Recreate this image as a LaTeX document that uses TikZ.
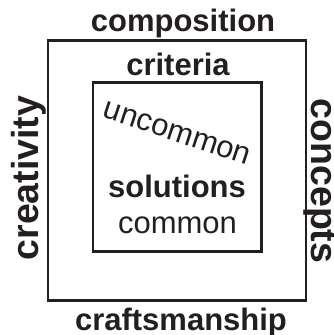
\documentclass[tikz,border=0pt]{standalone}
\usepackage{fontspec}
\setmainfont{Liberation Sans}
\definecolor{ink}{HTML}{231F20}
\begin{document}
\begin{tikzpicture}[x=1pt,y=-1pt,
  boxframe/.style={draw=ink,line width=2.5pt,inner sep=0pt,fill=none},
  bigbold/.style={text=ink,inner sep=0pt,anchor=base,font=\fontsize{31}{31}\selectfont\bfseries},
  sidebold/.style={text=ink,inner sep=0pt,anchor=base,font=\fontsize{37.5}{37.5}\selectfont\bfseries},
  plain/.style={text=ink,inner sep=0pt,anchor=base,font=\fontsize{31}{31}\selectfont}]
\useasboundingbox (0,0) rectangle (334,335);
\node[boxframe,minimum width=258pt,minimum height=259.8pt] (outer) at (177,170.6) {};
\node[boxframe,minimum width=168.3pt,minimum height=168.8pt] (inner) at (177.15,167.1) {};
\node[bigbold] (composition) at (183,31.5) {composition};
\node[bigbold] (craftsmanship) at (181,330) {craftsmanship};
\node[bigbold] (criteria) at (178,75) {criteria};
\node[sidebold,rotate=90] (creativity) at (38,178) {creativity};
\node[sidebold,rotate=-90] (concepts) at (311,181) {concepts};
\node[plain,rotate=-18.3] (uncommon) at (174.5,141) {uncommon};
\node[bigbold] (solutions) at (177,197) {solutions};
\node[plain] (common) at (177.5,233) {common};
\end{tikzpicture}
\end{document}
